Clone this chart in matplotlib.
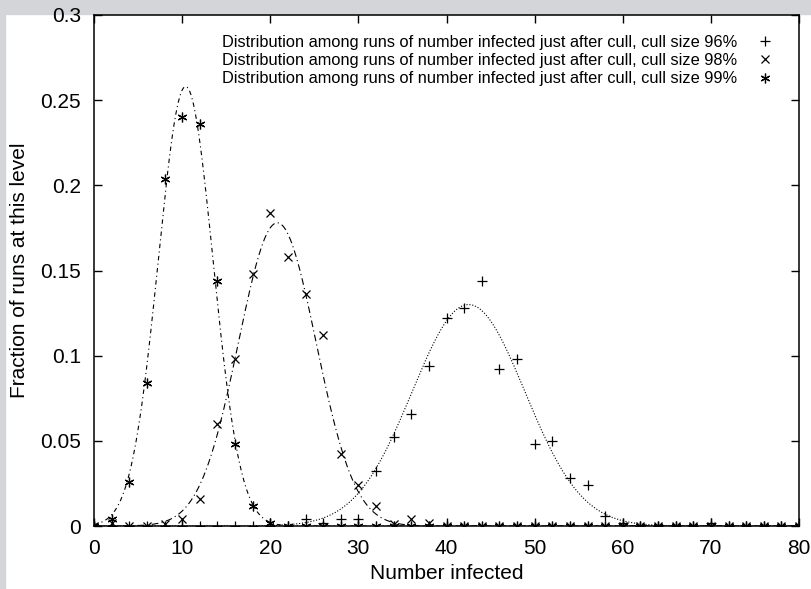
import numpy as np
import matplotlib
matplotlib.use("Agg")
import matplotlib.pyplot as plt
from matplotlib.patches import Rectangle

plt.rcParams["font.family"] = ["Liberation Sans", "DejaVu Sans"]

# ── Data: number infected just after cull (every 2) ─────────────────────────
number_infected = [0, 2, 4, 6, 8, 10, 12, 14, 16, 18, 20, 22, 24, 26, 28, 30,
                   32, 34, 36, 38, 40, 42, 44, 46, 48, 50, 52, 54, 56, 58, 60,
                   62, 64, 66, 68, 70, 72, 74, 76, 78, 80]

frac_96 = [0, 0, 0, 0, 0, 0, 0, 0, 0, 0, 0, 0, 0.004, 0.002, 0.004, 0.004,
           0.032, 0.052, 0.066, 0.094, 0.122, 0.128, 0.144, 0.092, 0.098, 0.048,
           0.050, 0.028, 0.024, 0.006, 0.002, 0, 0, 0, 0, 0.002, 0, 0, 0, 0, 0]
frac_98 = [0, 0.002, 0, 0, 0.001, 0.004, 0.016, 0.060, 0.098, 0.148, 0.184,
           0.158, 0.136, 0.112, 0.042, 0.024, 0.012, 0.001, 0.004, 0.002, 0,
           0, 0, 0, 0, 0, 0, 0, 0, 0, 0, 0, 0, 0, 0, 0, 0, 0, 0, 0, 0]
frac_99 = [0, 0.004, 0.026, 0.084, 0.204, 0.240, 0.236, 0.144, 0.048, 0.012,
           0.002, 0, 0, 0, 0, 0, 0, 0, 0, 0, 0, 0, 0, 0, 0, 0, 0, 0, 0, 0, 0,
           0, 0, 0, 0, 0, 0, 0, 0, 0, 0]

# gaussian fits: (amplitude, mean, sigma)
fit_96 = (0.130, 42.5, 6.4)
fit_98 = (0.178, 20.8, 4.4)
fit_99 = (0.258, 10.4, 3.1)

labels = ["Distribution among runs of number infected just after cull, cull size 96%",
          "Distribution among runs of number infected just after cull, cull size 98%",
          "Distribution among runs of number infected just after cull, cull size 99%"]


def gauss(x, p):
    a, mu, s = p
    return a * np.exp(-(x - mu) ** 2 / (2 * s ** 2))


fig = plt.figure(figsize=(8.11, 5.89), dpi=100, facecolor="white")
# grey frame strips of the scanned page (behind everything)
fig.patches.append(Rectangle((0, 1 - 14 / 589), 1, 14 / 589, transform=fig.transFigure,
                             color="#d4d5d8", zorder=-5))
fig.patches.append(Rectangle((0, 0), 5 / 811, 1, transform=fig.transFigure,
                             color="#d4d5d8", zorder=-5))

ax = fig.add_axes([94 / 811, 63 / 589, 705 / 811, 511 / 589])
ax.patch.set_alpha(0)

xs = np.linspace(0, 80, 801)
ax.plot(xs, gauss(xs, fit_96), color="black", lw=0.8, ls=(0, (1, 1.6)))
ax.plot(xs, gauss(xs, fit_98), color="black", lw=0.8, ls=(0, (6, 3, 1, 3)))
ax.plot(xs, gauss(xs, fit_99), color="black", lw=0.8, ls=(0, (4, 3, 1, 3)))

ax.plot(number_infected, frac_96, marker="+", ls="none", color="black",
        mew=0.9, markersize=7, label=labels[0])
ax.plot(number_infected, frac_98, marker="x", ls="none", color="black",
        mew=0.9, markersize=5.5, label=labels[1])
ax.plot(number_infected, frac_99, marker=(6, 2, 0), ls="none", color="black",
        mew=0.9, markersize=7, label=labels[2])

ax.set_xlim(0, 80)
ax.set_ylim(0, 0.3)
ax.set_xticks(range(0, 81, 10))
ax.set_yticks([0, 0.05, 0.1, 0.15, 0.2, 0.25, 0.3])
ax.set_yticklabels(["0", "0.05", "0.1", "0.15", "0.2", "0.25", "0.3"])
ax.tick_params(direction="in", length=6, width=1, top=True, right=True,
               labelsize=15)
ax.tick_params(axis="x", pad=9)
ax.tick_params(axis="y", pad=9.5)
for s in ax.spines.values():
    s.set_linewidth(1.1)

ax.set_xlabel("Number infected", fontsize=15, labelpad=5)
ax.set_ylabel("Fraction of runs at this level", fontsize=15, labelpad=8)

ax.legend(loc="upper right", bbox_to_anchor=(0.977, 0.974), markerfirst=False,
          frameon=False, fontsize=11.8, handlelength=1.4, handletextpad=1.0,
          labelspacing=0.2, borderaxespad=0)

fig.savefig("out.png", dpi=100, facecolor=fig.get_facecolor())
